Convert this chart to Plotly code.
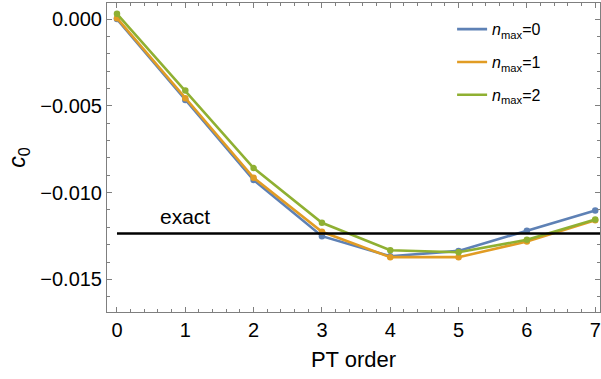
import plotly.graph_objects as go

pt_order = [0, 1, 2, 3, 4, 5, 6, 7]
c0_nmax0 = [0.00000, -0.00466, -0.00928, -0.01251, -0.01367, -0.01336, -0.01220, -0.01103]
c0_nmax1 = [0.00005, -0.00456, -0.00915, -0.01226, -0.01372, -0.01372, -0.01282, -0.01160]
c0_nmax2 = [0.00030, -0.00412, -0.00859, -0.01174, -0.01332, -0.01344, -0.01272, -0.01155]
exact_value = -0.01236
series_names = ["<i>n</i><sub>max</sub>=0", "<i>n</i><sub>max</sub>=1", "<i>n</i><sub>max</sub>=2"]
colors = ["#5E81B5", "#E19C24", "#8FB032"]
x_range = [-0.146, 7.07]
y_range = [-0.01688, 0.000924]

fig = go.Figure()
for i, (name, ys, col) in enumerate(zip(series_names, [c0_nmax0, c0_nmax1, c0_nmax2], colors)):
    fig.add_trace(go.Scatter(x=pt_order, y=ys, mode="lines+markers", name=name,
                             line=dict(color=col, width=2.6), marker=dict(color=col, size=6.5),
                             showlegend=False, cliponaxis=False))
    fig.add_trace(go.Scatter(x=[None], y=[None], mode="lines", name=name, legendgroup=f"g{i}",
                             line=dict(color=col, width=2.6), showlegend=True))

fig.add_trace(go.Scatter(x=[pt_order[0], x_range[1]], y=[exact_value, exact_value], mode="lines",
                         line=dict(color="black", width=2.6), showlegend=False))
fig.add_annotation(x=1.0, y=exact_value, yshift=17, text="exact", showarrow=False,
                   font=dict(size=21, color="black"))

axis_common = dict(showline=True, linecolor="#7f7f7f", linewidth=1, mirror="allticks",
                   ticks="inside", tickcolor="#7f7f7f", ticklen=5, tickwidth=1,
                   showgrid=False, zeroline=False,
                   tickfont=dict(size=20, color="black"))
fig.update_xaxes(range=x_range, tickvals=pt_order, title=dict(text="PT order", font=dict(size=22, color="black"), standoff=11),
                 minor=dict(ticks="inside", ticklen=3, tickcolor="#7f7f7f", dtick=0.2, tick0=0, showgrid=False),
                 **axis_common)
fig.update_yaxes(range=y_range, tickvals=[0, -0.005, -0.01, -0.015], ticktext=["0.000", "\u22120.005", "\u22120.010", "\u22120.015"],
                 title=dict(text="<i>c</i><sub>0</sub>", font=dict(size=23, color="black"), standoff=8),
                 minor=dict(ticks="inside", ticklen=3, tickcolor="#7f7f7f", dtick=0.001, tick0=0, showgrid=False),
                 **axis_common)

fig.update_layout(width=601, height=379, margin=dict(l=107, r=1, t=3, b=67),
                  plot_bgcolor="white", paper_bgcolor="white",
                  font=dict(family="Liberation Sans, Arial, sans-serif", color="black"),
                  legend=dict(x=0.7, y=0.97, xanchor="left", yanchor="top", bgcolor="rgba(0,0,0,0)",
                              font=dict(size=16), itemwidth=30, tracegroupgap=9))
fig.write_html("out.html")
